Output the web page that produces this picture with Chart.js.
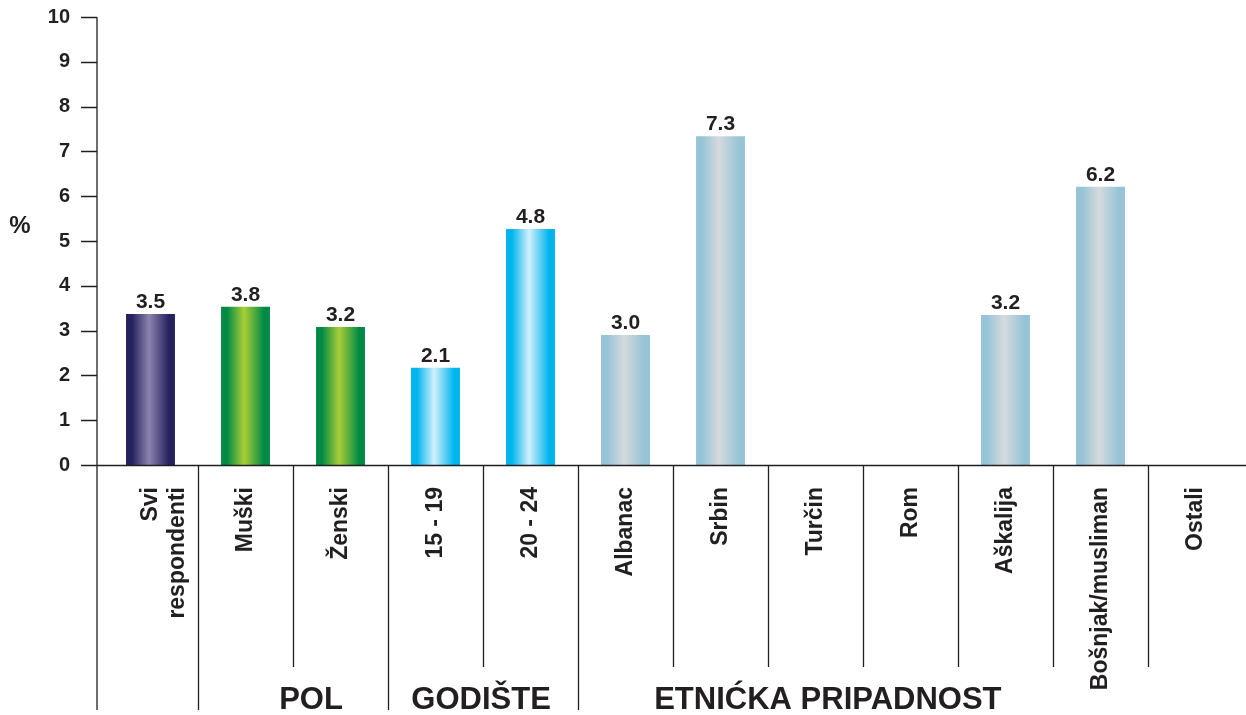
<!DOCTYPE html>
<html>
<head>
<meta charset="utf-8">
<script src="https://cdn.jsdelivr.net/npm/chart.js@4.4.1/dist/chart.umd.min.js"></script>
<style>
  html, body { margin: 0; padding: 0; background: #fff; }
  #wrap { width: 1246px; height: 715px; }
</style>
</head>
<body>
<div id="wrap"><canvas id="chart" width="1246" height="715"></canvas></div>
<script>
// data
const categories = [['Svi', 'respondenti'], 'Muški', 'Ženski', '15 - 19', '20 - 24', 'Albanac', 'Srbin', 'Turčin', 'Rom', 'Aškalija', 'Bošnjak/musliman', 'Ostali'];
const barValues = [3.37, 3.53, 3.08, 2.17, 5.27, 2.90, 7.34, 0, 0, 3.35, 6.21, 0];
const valueLabels = ['3.5', '3.8', '3.2', '2.1', '4.8', '3.0', '7.3', '', '', '3.2', '6.2', ''];
const groupNames = ['POL', 'GODIŠTE', 'ETNIĆKA PRIPADNOST'];
const groupStarts = [1, 3, 5];   // category index where each group begins
const yMin = 0, yMax = 10, yStep = 1;
const yUnit = '%';

// styling
const ink = '#231f20';
const FONT = '"Liberation Sans", Arial, sans-serif';
const barPct = 0.515;
const palettes = {
  navy:  ['#25215e', '#8b84b0'],
  green: ['#008a45', '#aace36'],
  cyan:  ['#00b4ee', '#d2f0fc'],
  steel: ['#96c4d6', '#d6dadd']
};
const barPalette = ['navy', 'green', 'green', 'cyan', 'cyan', 'steel', 'steel', 'steel', 'steel', 'steel', 'steel', 'steel'];
// where the group captions sit, in category units
const groupLabelAt = [1.69, 3.48, 7.13];

function barFill(c) {
  const chart = c.chart;
  const pal = palettes[barPalette[c.dataIndex]];
  if (!chart.chartArea) return pal[0];
  const xs = chart.scales.x;
  const cx = xs.getPixelForValue(c.dataIndex);
  const half = xs.width / categories.length * barPct / 2;
  const g = chart.ctx.createLinearGradient(cx - half, 0, cx + half, 0);
  g.addColorStop(0, pal[0]);
  g.addColorStop(0.12, pal[0]);
  g.addColorStop(0.47, pal[1]);
  g.addColorStop(0.88, pal[0]);
  g.addColorStop(1, pal[0]);
  return g;
}

const decor = {
  id: 'decor',
  afterDraw(chart) {
    const ctx = chart.ctx;
    const xs = chart.scales.x, ys = chart.scales.y;
    const area = chart.chartArea;
    const x0 = area.left - 6;
    const yTop = ys.getPixelForValue(yMax);
    const yZero = ys.getPixelForValue(0);
    const catW = xs.width / categories.length;

    ctx.save();
    ctx.strokeStyle = ink;
    ctx.lineWidth = 1.3;
    ctx.beginPath();
    // y axis with ticks
    ctx.moveTo(x0, yTop);
    ctx.lineTo(x0, 710);
    for (let v = yMin; v <= yMax; v += yStep) {
      const py = Math.round(ys.getPixelForValue(v)) + 0.5;
      ctx.moveTo(x0 - 16, py);
      ctx.lineTo(x0, py);
    }
    // x axis
    ctx.moveTo(x0 - 16, Math.round(yZero) + 0.5);
    ctx.lineTo(chart.width, Math.round(yZero) + 0.5);
    // category dividers
    for (let i = 1; i < categories.length; i++) {
      const bx = Math.round(xs.getPixelForValue(i) - catW / 2) + 0.5;
      ctx.moveTo(bx, yZero);
      ctx.lineTo(bx, groupStarts.includes(i) ? 710 : 667);
    }
    ctx.stroke();

    ctx.fillStyle = ink;
    // value labels
    ctx.font = 'bold 21px ' + FONT;
    ctx.textAlign = 'center';
    ctx.textBaseline = 'alphabetic';
    chart.getDatasetMeta(0).data.forEach((bar, i) => {
      if (!valueLabels[i]) return;
      ctx.fillText(valueLabels[i], bar.x, bar.y - 6);
    });
    // group captions
    ctx.font = 'bold 31px ' + FONT;
    groupNames.forEach((name, k) => {
      const gx = xs.getPixelForValue(0) + groupLabelAt[k] * catW;
      ctx.fillText(name, gx, 709);
    });
    // unit
    ctx.font = 'bold 24px ' + FONT;
    ctx.textBaseline = 'middle';
    ctx.fillText(yUnit, 20, 226);
    ctx.restore();
  }
};

new Chart(document.getElementById('chart'), {
  type: 'bar',
  data: {
    labels: categories,
    datasets: [{
      data: barValues,
      backgroundColor: barFill,
      borderWidth: 0,
      categoryPercentage: 1,
      barPercentage: barPct
    }]
  },
  options: {
    responsive: false,
    animation: false,
    devicePixelRatio: 1,
    layout: { padding: { top: 17, right: 3, left: 0, bottom: 0 } },
    plugins: { legend: { display: false }, tooltip: { enabled: false } },
    scales: {
      x: {
        grid: { display: false, drawTicks: false },
        border: { display: false },
        ticks: {
          autoSkip: false,
          minRotation: 90,
          maxRotation: 90,
          padding: 22,
          color: ink,
          font: { family: FONT, size: 23, weight: 'bold' }
        },
        afterFit(scale) {
          scale.height = 250;
          scale.paddingLeft = 0; scale.paddingRight = 0;
          scale.paddingTop = 0; scale.paddingBottom = 0;
        }
      },
      y: {
        min: yMin,
        max: yMax,
        grid: { display: false, drawTicks: false },
        border: { display: false },
        ticks: {
          stepSize: yStep,
          padding: 33,
          color: ink,
          font: { family: FONT, size: 20, weight: 'bold' }
        },
        afterFit(scale) {
          scale.width = 103;
          scale.paddingTop = 0; scale.paddingBottom = 0;
        }
      }
    }
  },
  plugins: [decor]
});
</script>
</body>
</html>
